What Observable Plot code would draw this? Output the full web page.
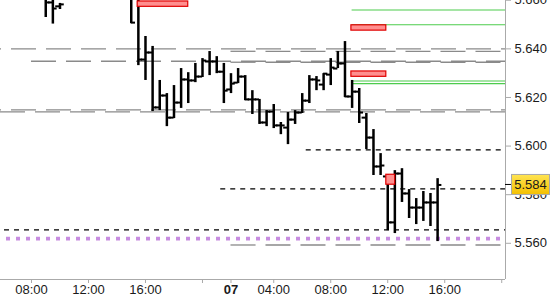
<!DOCTYPE html>
<html><head><meta charset="utf-8">
<script src="https://cdn.jsdelivr.net/npm/d3@7"></script>
<script src="https://cdn.jsdelivr.net/npm/@observablehq/plot@0.6"></script>
<style>
html,body{margin:0;padding:0;background:#fff;}
#chart{width:550px;height:300px;overflow:hidden;position:relative;}
#chart svg{display:block;}
</style></head><body><div id="chart"></div>
<script>
// 30-minute bars, indexed by session bar number (0 = 06 08:00; 28 = 07 01:00)
const barIdx   = [2,3,4,14,15,16,17,18,19,20,21,22,23,24,25,26,27,28,29,30,31,32,33,34,35,36,37,38,39,40,41,42,43,44,45,46,47,48,49,50,51,52,53,54,55,56,57];
const barOpen  = [5.6620,5.6591,5.6575,5.6620,5.6620,5.6356,5.6385,5.6159,5.6208,5.6117,5.6179,5.6274,5.6270,5.6286,5.6348,5.6348,5.6306,5.6233,5.6261,5.6286,5.6192,5.6192,5.6097,5.6142,5.6085,5.6076,5.6109,5.6138,5.6187,5.6274,5.6253,5.6294,5.6319,5.6340,5.6204,5.6224,5.6117,5.6035,5.5916,5.5875,5.5686,5.5887,5.5805,5.5747,5.5747,5.5768,5.5768];
const barHigh  = [5.6625,5.6625,5.6587,5.6625,5.6625,5.6451,5.6410,5.6270,5.6216,5.6249,5.6319,5.6302,5.6340,5.6360,5.6389,5.6368,5.6340,5.6298,5.6319,5.6290,5.6228,5.6192,5.6146,5.6171,5.6097,5.6138,5.6146,5.6216,5.6290,5.6286,5.6298,5.6360,5.6389,5.6430,5.6270,5.6237,5.6134,5.6068,5.5969,5.5883,5.5899,5.5907,5.5821,5.5784,5.5813,5.5805,5.5866];
const barLow   = [5.6529,5.6502,5.6562,5.6504,5.6331,5.6270,5.6142,5.6146,5.6080,5.6113,5.6155,5.6175,5.6261,5.6282,5.6290,5.6298,5.6175,5.6216,5.6257,5.6187,5.6130,5.6089,5.6080,5.6072,5.6047,5.6006,5.6089,5.6134,5.6175,5.6228,5.6228,5.6249,5.6319,5.6200,5.6155,5.6093,5.5986,5.5879,5.5879,5.5652,5.5640,5.5768,5.5702,5.5677,5.5690,5.5669,5.5607];
const barClose = [5.6591,5.6566,5.6583,5.6508,5.6356,5.6385,5.6159,5.6208,5.6117,5.6179,5.6274,5.6270,5.6286,5.6352,5.6348,5.6306,5.6228,5.6257,5.6286,5.6192,5.6192,5.6097,5.6142,5.6085,5.6085,5.6109,5.6138,5.6187,5.6274,5.6270,5.6298,5.6323,5.6340,5.6204,5.6224,5.6138,5.6035,5.5916,5.5920,5.5686,5.5887,5.5805,5.5747,5.5747,5.5768,5.5768,5.5840];

const tickIdx    = [0, 8, 16, 24, 28, 34, 42, 50, 58, 66];
const tickLabels = ["08:00","12:00","16:00","","07","04:00","08:00","12:00","16:00",""];
const yTicks     = [5.56, 5.58, 5.60, 5.62, 5.64, 5.66];

const greyLevelsA = [5.6400, 5.6149];                       // from left edge
const greyLevelsB = [5.6390, 5.6349, 5.6345, 5.6141, 5.5593];
const greyStartsB = [28, 0, 28, -4.35, 28];
const blackLevels = [5.5984, 5.5824, 5.5655];
const blackStarts = [38, 26, -4.35];
const purpleLevels = [5.5619];
const greenLevels = [5.6560, 5.6499, 5.6268, 5.6257];
const greenStart = 45;
const boxX1   = [14.9, 44.9, 44.9, 49.8];
const boxX2   = [22.0, 49.8, 49.8, 51.05];
const boxLow  = [5.6573, 5.6475, 5.6285, 5.5841];
const boxHigh = [5.6595, 5.6497, 5.6307, 5.5882];
const lastPrice = 5.584;

const xMin = -4.35, xMax = 66.53;
const yMin = 5.5451, yMax = 5.6599;

const bars = barIdx.map((i, k) => ({i, o: barOpen[k], h: barHigh[k], l: barLow[k], c: barClose[k]}));
const greyA = greyLevelsA.map(v => ({v, s: xMin}));
const greyB = greyLevelsB.map((v, k) => ({v, s: greyStartsB[k] < xMin ? xMin : greyStartsB[k]}));
const blacks = blackLevels.map((v, k) => ({v, s: Math.max(xMin, blackStarts[k])}));
const greens = greenLevels.map(v => ({v, s: greenStart}));
const boxes = boxX1.map((x1, k) => ({x1, x2: boxX2[k], y1: boxLow[k], y2: boxHigh[k]}));
const labelMap = new Map(tickIdx.map((t, k) => [t, tickLabels[k]]));

const chart = Plot.plot({
  width: 550, height: 300,
  marginLeft: 0, marginRight: 45, marginTop: 0, marginBottom: 21,
  x: {domain: [xMin, xMax], axis: null},
  y: {domain: [yMin, yMax], axis: null},
  style: {fontFamily: "'Liberation Sans', Arial, sans-serif", fontSize: "13px", background: "#fff", color: "#1a1a1a"},
  marks: [
    Plot.ruleY(greyA, {y: "v", x1: "s", x2: () => xMax, stroke: "#8a8a8a", strokeWidth: 1.3, strokeDasharray: "25,10", strokeDashoffset: 24}),
    Plot.ruleY(greyB, {y: "v", x1: "s", x2: () => xMax, stroke: "#8a8a8a", strokeWidth: 1.3, strokeDasharray: "25,10"}),
    Plot.ruleY(blacks, {y: "v", x1: "s", x2: () => xMax, stroke: "#000", strokeWidth: 1.3, strokeDasharray: "5,5", strokeDashoffset: 6}),
    Plot.ruleY(purpleLevels, {y: d => d, x1: () => xMin, x2: () => xMax, stroke: "#c78de0", strokeWidth: 3.8, strokeDasharray: "4,6", strokeDashoffset: 4}),
    Plot.ruleY(greens, {y: "v", x1: "s", x2: () => xMax, stroke: "#4ccc4c", strokeWidth: 1.1}),
    Plot.ruleX(bars, {x: "i", y1: "l", y2: "h", stroke: "#000", strokeWidth: 2.5, clip: true}),
    Plot.ruleY(bars, {y: "o", x1: d => d.i - 0.6, x2: "i", stroke: "#000", strokeWidth: 2, clip: true}),
    Plot.ruleY(bars, {y: "c", x1: "i", x2: d => d.i + 0.6, stroke: "#000", strokeWidth: 2, clip: true}),
    Plot.rect(boxes, {x1: "x1", x2: "x2", y1: "y1", y2: "y2", fill: "#ff8f8f", stroke: "#e00000", strokeWidth: 1.2, clip: true}),
    Plot.ruleY([yMin], {stroke: "#aaaaaa"}),
    Plot.ruleX([xMax], {stroke: "#aaaaaa"}),
    Plot.axisX({ticks: tickIdx, tickFormat: d => labelMap.get(d), tickSize: 4, tickPadding: 1, stroke: "#aaaaaa", fill: "#1a1a1a"}),
    Plot.axisY({anchor: "right", ticks: yTicks, tickFormat: d3.format(".3f"), tickSize: 5, tickPadding: 4, stroke: "#aaaaaa", fill: "#1a1a1a"})
  ]
});

document.getElementById("chart").appendChild(chart);

const svg = d3.select(chart.tagName.toLowerCase() === "svg" ? chart : chart.querySelector("svg"));
svg.selectAll("text").filter(function() { return this.textContent === "07"; }).attr("font-weight", "bold");

// last-price badge
const ys = chart.scale("y"), xs = chart.scale("x");
const yb = ys.apply(lastPrice);
const xr = xs.range[1];
const defs = svg.append("defs");
const grad = defs.append("linearGradient").attr("id", "gold").attr("x1", 0).attr("y1", 0).attr("x2", 0).attr("y2", 1);
grad.append("stop").attr("offset", "0%").attr("stop-color", "#ffe452");
grad.append("stop").attr("offset", "100%").attr("stop-color", "#f4c000");
const g = svg.append("g");
g.append("line").attr("x1", xr).attr("x2", xr + 6).attr("y1", yb).attr("y2", yb).attr("stroke", "#000").attr("stroke-width", 1);
g.append("rect").attr("x", xr + 6.5).attr("y", yb - 10).attr("width", 38).attr("height", 20)
  .attr("fill", "url(#gold)").attr("stroke", "#a8a8a8").attr("stroke-width", 1);
g.append("text").attr("x", xr + 25.5).attr("y", yb).attr("text-anchor", "middle").attr("dominant-baseline", "central")
  .attr("fill", "#1a1a1a").style("font-size", "13px").text(d3.format(".3f")(lastPrice));
</script>
</body></html>
